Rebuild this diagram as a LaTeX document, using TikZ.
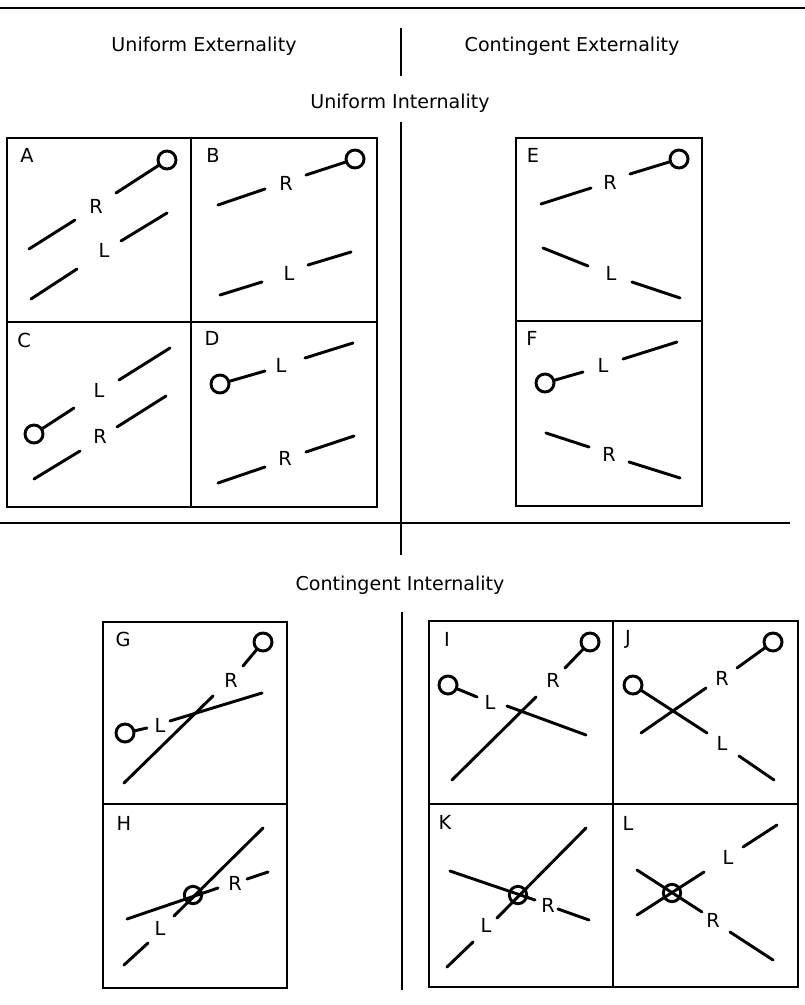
\documentclass[tikz,border=0pt]{standalone}
\usepackage{fontspec}
\setmainfont{DejaVu Sans}
\begin{document}
\begin{tikzpicture}[x=0.75pt,y=-0.75pt,
  frame/.style={line width=1.5pt},
  rule/.style={line width=1.4pt},
  seg/.style={line width=2.2pt,line cap=round},
  knob/.style={draw,circle,fill=white,line width=2.2pt,minimum size=13.5pt,inner sep=0pt},
  ring/.style={draw,circle,line width=2.2pt,minimum size=13pt,inner sep=0pt},
  head/.style={font=\fontsize{14.3}{16}\selectfont},
  lbl/.style={font=\fontsize{14.5}{16}\selectfont,inner sep=0pt}]
\useasboundingbox (0,0) rectangle (805,1005);
% rules and headings
\draw[rule] (0,8) -- (805,8);
\draw[rule] (0,523) -- (790,523);
\draw[rule] (401,28) -- (401,76);
\draw[rule] (401,122) -- (401,555);
\draw[rule] (402,612) -- (402,990);
\node[head] (ue) at (204,46) {Uniform Externality};
\node[head] (ce) at (572,46) {Contingent Externality};
\node[head] (ui) at (400,103) {Uniform Internality};
\node[head] (ci) at (400,585) {Contingent Internality};
% frames
\draw[frame] (7,138) rectangle (377,507);
\draw[frame] (7,322) -- (377,322);
\draw[frame] (191,138) -- (191,507);
\draw[frame] (516,138) rectangle (702,506);
\draw[frame] (516,321) -- (702,321);
\draw[frame] (103,622) rectangle (287,988);
\draw[frame] (103,804) -- (287,804);
\draw[frame] (429,621) rectangle (798,987);
\draw[frame] (429,804) -- (798,804);
\draw[frame] (613,621) -- (613,987);
% ---------- A
\node[lbl] (la) at (27,155) {A};
\draw[seg] (167,160) -- (116,193);
\node[knob] (ka) at (167,160) {};
\node[lbl] (ra) at (96,206) {R};
\draw[seg] (29,249) -- (75,220);
\draw[seg] (121,241) -- (167,213);
\node[lbl] (lA) at (104,250) {L};
\draw[seg] (31,299) -- (77,269);
% ---------- B
\node[lbl] (lb) at (213,155) {B};
\draw[seg] (355,159) -- (306,175);
\node[knob] (kb) at (355,159) {};
\node[lbl] (rb) at (286,183) {R};
\draw[seg] (265,189) -- (218,205);
\draw[seg] (351,252) -- (308,265);
\node[lbl] (lB) at (289,273) {L};
\draw[seg] (262,282) -- (220,295);
% ---------- C
\node[lbl] (lc) at (24,340) {C};
\draw[seg] (34,434) -- (74,408);
\node[knob] (kc) at (34,434) {};
\node[lbl] (lC) at (99,390) {L};
\draw[seg] (119,380) -- (170,348);
\draw[seg] (34,479) -- (80,451);
\node[lbl] (rc) at (100,436) {R};
\draw[seg] (117,427) -- (166,396);
% ---------- D
\node[lbl] (ld) at (212,338) {D};
\draw[seg] (220,384) -- (265,371);
\node[knob] (kd) at (220,384) {};
\node[lbl] (lD) at (281,365) {L};
\draw[seg] (305,358) -- (353,343);
\draw[seg] (218,483) -- (265,467);
\node[lbl] (rd) at (285,458) {R};
\draw[seg] (306,452) -- (354,436);
% ---------- E
\node[lbl] (le) at (533,155) {E};
\draw[seg] (679,159) -- (630,174);
\node[knob] (ke) at (679,159) {};
\node[lbl] (re) at (610,182) {R};
\draw[seg] (591,188) -- (541,204);
\draw[seg] (543,248) -- (588,266);
\node[lbl] (lE) at (611,273) {L};
\draw[seg] (632,282) -- (680,298);
% ---------- F
\node[lbl] (lf) at (532,338) {F};
\draw[seg] (545,383) -- (583,372);
\node[knob] (kf) at (545,383) {};
\node[lbl] (lF) at (603,365) {L};
\draw[seg] (623,359) -- (677,342);
\draw[seg] (546,433) -- (589,447);
\node[lbl] (rf) at (609,454) {R};
\draw[seg] (629,462) -- (680,478);
% ---------- G
\node[lbl] (lg) at (123,639) {G};
\draw[seg] (263,642) -- (243,666);
\node[knob] (kg1) at (263,642) {};
\node[lbl] (rg) at (231,680) {R};
\draw[seg] (213,696) -- (124,783);
\draw[seg] (125,733) -- (147,728);
\node[knob] (kg2) at (125,733) {};
\node[lbl] (lG) at (160,725) {L};
\draw[seg] (170,721) -- (262,693);
% ---------- H
\node[lbl] (lh) at (124,823) {H};
\draw[seg] (263,828) -- (174,916);
\node[lbl] (lH) at (160,928) {L};
\draw[seg] (148,943) -- (124,965);
\draw[seg] (127,919) -- (218,888);
\node[lbl] (rh) at (235,883) {R};
\draw[seg] (247,879) -- (268,872);
\node[ring] (ch) at (193,895) {};
% ---------- I
\node[lbl] (li) at (447,639) {I};
\draw[seg] (590,642) -- (565,668);
\node[knob] (ki1) at (590,642) {};
\node[lbl] (ri) at (553,680) {R};
\draw[seg] (536,697) -- (452,780);
\draw[seg] (448,685) -- (477,697);
\node[knob] (ki2) at (448,685) {};
\node[lbl] (lI) at (490,702) {L};
\draw[seg] (507,706) -- (586,735);
% ---------- J
\node[lbl] (lj) at (628,639) {J};
\draw[seg] (773,642) -- (737,668);
\node[knob] (kj1) at (773,642) {};
\node[lbl] (rj) at (722,678) {R};
\draw[seg] (706,688) -- (641,733);
\draw[seg] (633,685) -- (707,733);
\node[knob] (kj2) at (633,685) {};
\node[lbl] (lJ) at (722,743) {L};
\draw[seg] (739,756) -- (774,780);
% ---------- K
\node[lbl] (lk) at (445,822) {K};
\draw[seg] (586,828) -- (497,918);
\node[lbl] (lK) at (486,925) {L};
\draw[seg] (473,942) -- (447,967);
\draw[seg] (450,871) -- (535,900);
\node[lbl] (rk) at (548,905) {R};
\draw[seg] (558,909) -- (589,920);
\node[ring] (ck) at (518,895) {};
% ---------- L
\node[lbl] (ll) at (628,823) {L};
\draw[seg] (777,825) -- (743,847);
\node[lbl] (lL) at (728,857) {L};
\draw[seg] (704,872) -- (637,915);
\draw[seg] (637,870) -- (702,912);
\node[lbl] (rl) at (713,920) {R};
\draw[seg] (730,932) -- (773,960);
\node[ring] (cl) at (672,893) {};
\end{tikzpicture}
\end{document}
